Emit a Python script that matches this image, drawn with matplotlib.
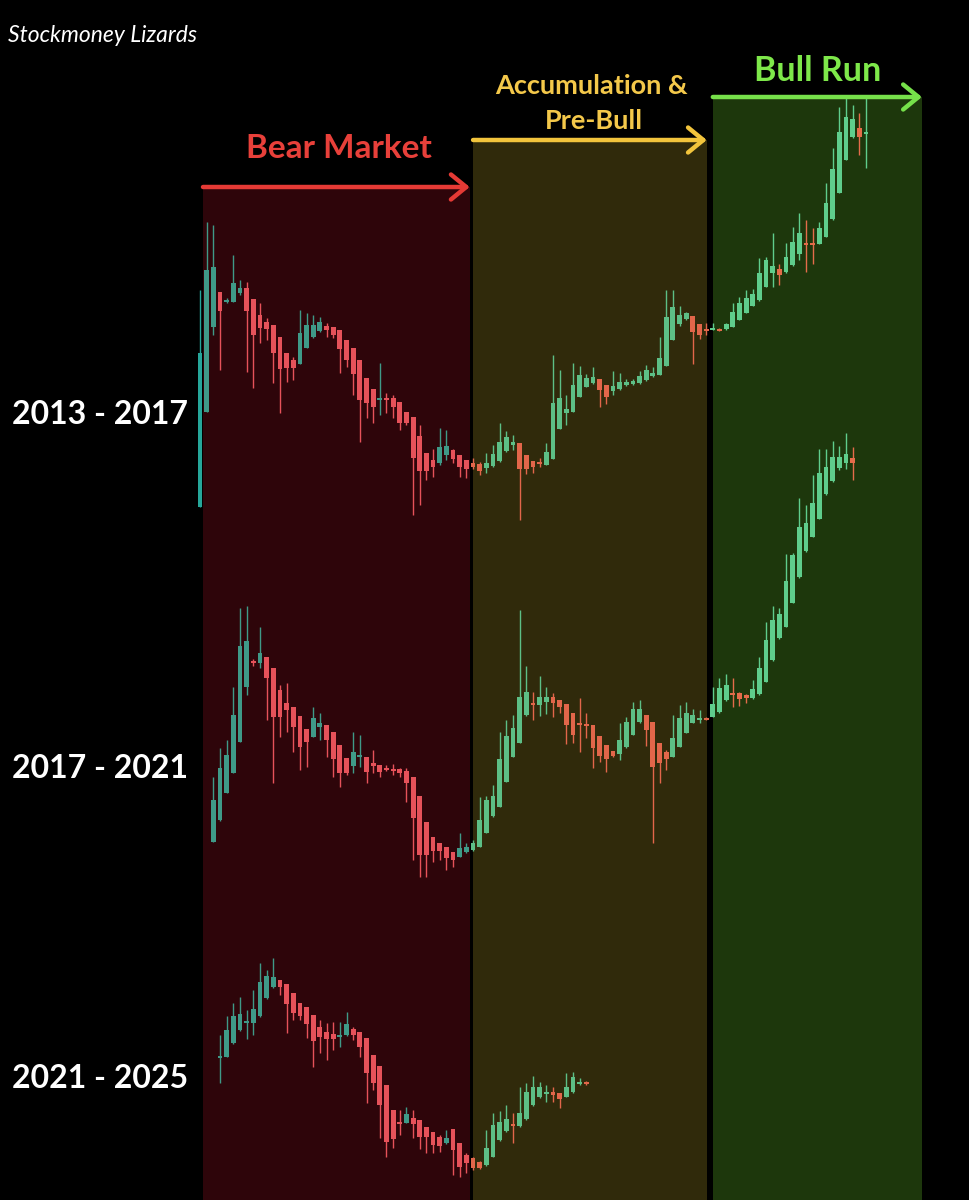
import matplotlib
matplotlib.use('Agg')
import matplotlib.pyplot as plt

# ---------------- data (price levels) ----------------
cycle_labels = ["2013 - 2017", "2017 - 2021", "2021 - 2025"]
phase_labels = ["Bear Market", "Accumulation &", "Pre-Bull", "Bull Run"]
brand = "Stockmoney Lizards"

s1_open = [693,788,873,908,898,898,907,912,901,885, 878,875,863,847,840,836,852,863,869,874,
           873,870,860,852,840,822,811,801,802,802, 798,788,783,764,747,740,737,745,750,745,
           740,737,736,732,734,739,749,755,757,745, 739,738,735,741,771,787,788,803,813,817,
           821,815,809,811,815,816,817,820,824,825, 834,860,876,881,884,876,871,871,871,871,
           873,880,887,894,900,913,927,931,928,935, 946,957,957,956,963,981,1007,1040,1063,1072,
           1067]
s1_close = [847,930,933,889,900,917,912,889,865,872, 871,847,831,832,832,867,875,875,878,870,
            865,851,840,826,800,797,793,802,801,793, 777,777,742,729,729,733,753,754,741,733,
            731,733,729,737,746,758,763,758,731,731, 733,737,748,797,802,791,815,825,822,823,
            810,803,814,818,818,819,824,830,827,842, 883,893,885,887,868,865,870,872,870,876,
            888,897,902,906,927,940,934,925,943,958, 967,956,956,972,997,1031,1068,1083,1081,1063,
            1068]
s1_high = [910,978,975,908,902,945,920,918,901,897, 882,875,863,847,843,890,887,885,883,877,
           873,870,860,852,840,822,811,837,807,805, 798,788,783,775,747,751,772,770,751,745,
           740,742,738,747,755,777,769,765,757,745, 739,742,757,845,830,805,837,834,826,833,
           821,815,829,827,821,821,829,835,833,863, 910,910,894,888,884,876,877,877,872,877,
           897,903,910,911,942,943,967,936,957,973, 987,980,972,978,1017,1052,1093,1103,1095,1087,
           1103]
s1_low = [693,788,865,830,897,898,905,828,812,857, 860,817,787,818,820,836,852,862,868,863,
          862,827,833,805,758,782,777,785,787,782, 770,775,685,695,720,723,735,740,737,723,
          722,731,725,727,733,738,748,750,680,726, 727,733,735,741,771,775,788,803,813,816,
          793,796,805,810,814,815,816,819,823,825, 834,860,874,880,836,861,865,870,869,870,
          873,880,887,894,899,913,913,915,927,934, 940,928,936,956,963,980,1007,1040,1062,1045,
          1032]

s2_open = [358,380,407,427,458,513,539,537,543,532, 510,497,493,484,471,463,473,475,468,455,
           442,434,443,443,437,435,432,431,431,429, 423,404,378,363,357,353,348,343,348,350,
           353,367,384,393,418,443,457,485,497,495, 498,503,500,496,487,477,476,475,464,455,
           449,446,453,465,478,485,478,457,448,443, 453,467,477,481,482,483,488,500,507,507,
           505,502,506,518,540,562,573,597,623,649, 663,681,706,719,732,737,742]
s2_close = [400,432,445,485,554,559,538,547,522,483, 483,490,473,453,458,482,477,460,441,427,
            427,448,445,428,434,428,431,430,427,417, 382,345,345,349,349,342,340,352,353,357,
            380,400,404,441,464,472,503,508,496,503, 503,497,493,475,465,476,475,452,444,441,
            444,460,478,491,491,470,433,437,441,462, 482,487,485,482,481,496,512,515,506,501,
            502,511,532,560,580,586,619,645,673,677, 697,727,733,743,743,746,737]
s2_high = [423,452,460,513,592,594,541,573,543,532, 515,517,493,484,471,493,487,475,468,455,
           442,468,465,443,450,435,435,436,432,432, 423,404,378,363,357,353,348,367,357,360,
           403,404,415,468,480,485,590,534,508,524, 513,507,500,496,487,502,487,475,464,455,
           449,477,483,498,500,485,478,457,450,485, 495,498,491,490,483,513,522,526,522,508,
           506,520,543,578,594,592,646,647,702,695, 725,751,751,759,754,767,753]
s2_low = [358,379,407,427,458,505,534,532,480,417, 463,468,448,430,433,463,460,443,423,413,
          425,427,433,417,427,423,429,425,423,398, 340,323,323,338,340,330,333,343,347,349,
          353,367,383,393,418,443,457,484,480,484, 486,483,487,456,457,448,462,432,438,428,
          443,440,452,465,477,454,357,417,430,443, 453,467,477,477,480,483,487,499,493,494,
          497,501,505,518,539,561,573,597,622,648, 663,681,705,718,730,731,720]

s3_open = [143,143,157,170,178,177,184,202,213,220, 216,207,197,193,185,173,168,166,164,165,
           171,168,162,145,134,115,90,78,77,82, 80,73,68,63,57,71,57,45,42,38,
           35,43,60,69,76,74,81,95,103,107, 108,107,103,108,117,118]
s3_close = [144,170,184,186,179,191,218,224,223,213, 196,187,184,176,159,163,161,161,165,176,
            165,153,127,117,95,58,61,77,86,76, 63,63,55,54,62,50,33,37,32,32,
            52,75,78,81,75,87,108,113,113,108, 105,101,113,123,118,117]
s3_high = [165,184,197,203,190,210,237,230,242,220, 216,207,197,193,185,180,177,178,178,188,
           173,168,162,145,134,115,90,90,93,90, 80,73,68,65,70,71,57,47,43,39,
           70,87,89,95,87,113,117,124,118,115, 113,107,127,128,122,119]
s3_low = [117,143,156,169,161,165,183,201,212,205, 167,180,180,162,133,147,140,150,153,164,
          160,143,97,110,62,43,52,65,77,62, 51,47,47,48,56,25,23,27,30,31,
          34,43,59,68,57,73,80,94,102,98, 98,92,103,107,115,115]

# ---------------- layout / style ----------------
W, H = 969, 1200
STEP = 6.66          # pixels per candle
X0 = 200             # pixel of the first candle
series = [
    (0, s1_open, s1_high, s1_low, s1_close),
    (2, s2_open, s2_high, s2_low, s2_close),
    (3, s3_open, s3_high, s3_low, s3_close),
]
# phase zones in candle-index units: start, end, top level, fill, arrow colour, up/down candle colours
zones = [
    (0.45, 40.5, 1013, '#2e050a', '#e53a35', '#3f9a88', '#e6525a'),
    (41.0, 76.1, 1060, '#302a0b', '#f2c43c', '#5dbf86', '#e2664a'),
    (77.0, 108.4, 1103, '#1d370c', '#76e04a', '#5fcd8c', '#e46c4a'),
]
outside_colors = ('#26a69a', '#ef5350')

fig = plt.figure(figsize=(W / 100, H / 100), dpi=100, facecolor='black')
ax = fig.add_axes([0, 0, 1, 1])
ax.set_facecolor('black')
ax.set_xlim(-X0 / STEP, (W - X0) / STEP)
ax.set_ylim(0, H)
ax.axis('off')

for (xa, xb, top, fill, acol, up, dn) in zones:
    ax.add_patch(plt.Rectangle((xa, 0), xb - xa, top, color=fill, zorder=0, lw=0))
    ax.annotate('', xy=(xb, top), xytext=(xa, top),
                arrowprops=dict(arrowstyle='->,head_length=0.55,head_width=0.45',
                                color=acol, lw=3.2, shrinkA=0, shrinkB=0,
                                mutation_scale=20), zorder=4)


def candle_color(x, is_up):
    for (xa, xb, top, fill, acol, up, dn) in zones:
        if xa - 0.3 <= x <= xb + 0.3:
            return up if is_up else dn
    return outside_colors[0] if is_up else outside_colors[1]


for offset, o, h, l, c in series:
    for k in range(len(o)):
        x = offset + k
        is_up = c[k] >= o[k]
        col = candle_color(x, is_up)
        ax.vlines(x, l[k], h[k], color=col, lw=1.0, zorder=2)
        lo, hi = min(o[k], c[k]), max(o[k], c[k])
        if hi - lo < 2:
            mid = (hi + lo) / 2
            lo, hi = mid - 1.0, mid + 1.0
        ax.bar(x, hi - lo, 0.72, bottom=lo, color=col, zorder=3, lw=0)

# ---------------- texts ----------------
def fx(px):
    return px / W


def fy(py):
    return 1 - py / H


bold = dict(family=['Lato', 'DejaVu Sans'], fontweight='bold', ha='center', va='center')
fig.text(fx(8), fy(36), brand, color='white', fontsize=16.5, style='italic',
         family=['Lato', 'DejaVu Sans'], ha='left', va='center')
fig.text(fx(339), fy(148), phase_labels[0], color='#e8403a', fontsize=24, **bold)
fig.text(fx(591), fy(86), phase_labels[1], color='#f4c84a', fontsize=19.5, **bold)
fig.text(fx(594), fy(121), phase_labels[2], color='#f4c84a', fontsize=19.5, **bold)
fig.text(fx(818), fy(71), phase_labels[3], color='#7ee84a', fontsize=24.5, **bold)

for label, py in zip(cycle_labels, [415, 769, 1078]):
    fig.text(fx(100), fy(py), label, color='white', fontsize=23, **bold)

fig.savefig('out.png', dpi=100, facecolor='black')
